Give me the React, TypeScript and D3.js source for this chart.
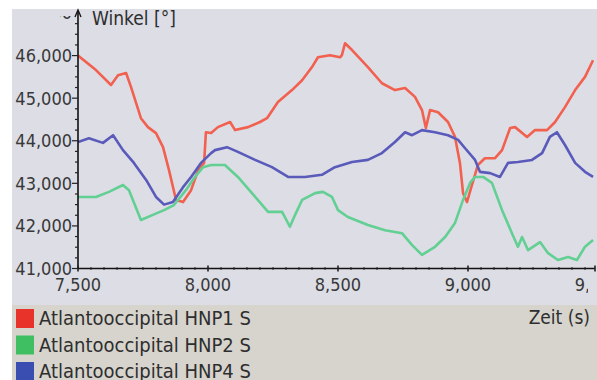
import React, { useEffect, useRef } from "react";
import * as d3 from "d3";

// readings per series: [time (s), angle]
const hnp1: [number, number][] = [
  [7500, 46000], [7569, 45660], [7627, 45310], [7654, 45540], [7685, 45590],
  [7704, 45260], [7742, 44530], [7769, 44320], [7800, 44180], [7827, 43850],
  [7850, 43310], [7877, 42610], [7904, 42560], [7935, 42840], [7962, 43310],
  [7985, 43480], [7992, 44200], [8012, 44180], [8038, 44320], [8085, 44440],
  [8104, 44250], [8154, 44320], [8200, 44440], [8227, 44530], [8269, 44910],
  [8323, 45190], [8362, 45420], [8400, 45730], [8423, 45960], [8469, 46010],
  [8508, 45960], [8515, 46010], [8527, 46290], [8554, 46130], [8615, 45730],
  [8669, 45350], [8719, 45190], [8758, 45240], [8796, 45030], [8823, 44720],
  [8838, 44300], [8854, 44720], [8885, 44670], [8923, 44440], [8950, 44090],
  [8969, 43480], [8981, 42770], [8996, 42560], [9015, 42960], [9038, 43430],
  [9065, 43590], [9104, 43590], [9131, 43780], [9162, 44300], [9181, 44320],
  [9227, 44090], [9258, 44250], [9304, 44250], [9335, 44440], [9373, 44790],
  [9412, 45190], [9450, 45500], [9481, 45890],
];

const hnp2: [number, number][] = [
  [7500, 42680], [7569, 42680], [7619, 42800], [7673, 42960], [7696, 42840],
  [7742, 42140], [7788, 42260], [7831, 42370], [7869, 42490], [7915, 42840],
  [7946, 43120], [7981, 43380], [8012, 43430], [8065, 43430], [8115, 43150],
  [8169, 42770], [8231, 42330], [8285, 42330], [8315, 41980], [8335, 42260],
  [8362, 42610], [8412, 42770], [8442, 42800], [8477, 42680], [8500, 42370],
  [8538, 42210], [8615, 42020], [8681, 41900], [8746, 41830], [8785, 41550],
  [8823, 41320], [8873, 41510], [8912, 41740], [8950, 42070], [8981, 42610],
  [9008, 43010], [9027, 43150], [9058, 43150], [9092, 43010], [9131, 42370],
  [9169, 41830], [9192, 41510], [9208, 41740], [9231, 41430], [9277, 41620],
  [9308, 41360], [9346, 41200], [9385, 41270], [9419, 41200], [9450, 41510],
  [9481, 41670],
];

const hnp4: [number, number][] = [
  [7500, 43970], [7542, 44060], [7596, 43950], [7635, 44130], [7673, 43780],
  [7715, 43480], [7762, 43080], [7800, 42680], [7831, 42500], [7865, 42560],
  [7904, 42910], [7935, 43150], [7973, 43480], [8012, 43710], [8027, 43780],
  [8073, 43850], [8115, 43740], [8181, 43550], [8246, 43380], [8308, 43150],
  [8373, 43150], [8438, 43200], [8488, 43380], [8554, 43500], [8615, 43550],
  [8669, 43710], [8719, 43970], [8758, 44200], [8785, 44130], [8823, 44250],
  [8873, 44200], [8923, 44130], [8962, 44020], [8988, 43830], [9027, 43550],
  [9046, 43270], [9085, 43240], [9123, 43150], [9154, 43480], [9192, 43500],
  [9246, 43550], [9285, 43710], [9315, 44090], [9342, 44200], [9373, 43900],
  [9412, 43480], [9450, 43270], [9481, 43150],
];

const seriesNames = [
  "Atlantooccipital HNP1 S",
  "Atlantooccipital HNP2 S",
  "Atlantooccipital HNP4 S",
];
const lineColors = ["#f2604f", "#62cf93", "#5a5abb"];
const swatchColors = ["#e8332b", "#3fbf62", "#3a4eb2"];

const xTicks = [7500, 8000, 8500, 9000, 9500];
const yTicks = [41000, 42000, 43000, 44000, 45000, 46000, 47000];

const W = 597;
const H = 380;
const FONT = "'DejaVu Sans Condensed', 'DejaVu Sans', sans-serif";

export default function App() {
  const ref = useRef<SVGSVGElement>(null);

  useEffect(() => {
    const svg = d3.select(ref.current);
    svg.selectAll("*").remove();

    const left = 78;
    const right = 595;
    const bottom = 268.5;
    const top = 13;

    const x = d3.scaleLinear().domain([7500, 9500]).range([left, left + 520]);
    const y = d3.scaleLinear().domain([41000, 47000]).range([bottom, top]);

    // panels
    svg.append("rect").attr("width", W).attr("height", H).attr("fill", "#ffffff");
    svg.append("rect").attr("x", 12).attr("y", 9).attr("width", W - 12)
      .attr("height", 296).attr("fill", "#dcdde5");
    svg.append("rect").attr("x", 12).attr("y", 305).attr("width", W - 12)
      .attr("height", H - 305).attr("fill", "#d6d4cd");

    const defs = svg.append("defs");
    defs.append("clipPath").attr("id", "plotClip").append("rect")
      .attr("x", left).attr("y", 9).attr("width", right - left).attr("height", bottom - 9);
    defs.append("clipPath").attr("id", "labelClip").append("rect")
      .attr("x", 60).attr("y", 16).attr("width", 20).attr("height", 10);
    defs.append("clipPath").attr("id", "xLabelClip").append("rect")
      .attr("x", 12).attr("y", 270).attr("width", 576).attr("height", 35);

    // lines
    const line = d3.line<[number, number]>()
      .x((d) => x(d[0]))
      .y((d) => y(d[1]));
    const plot = svg.append("g").attr("clip-path", "url(#plotClip)");
    [hnp1, hnp2, hnp4].forEach((data, i) => {
      plot.append("path")
        .datum(data)
        .attr("d", line)
        .attr("fill", "none")
        .attr("stroke", lineColors[i])
        .attr("stroke-width", 2.6)
        .attr("stroke-linejoin", "round");
    });

    // y axis
    const yAxis = svg.append("g");
    yAxis.append("line").attr("x1", left).attr("x2", left)
      .attr("y1", bottom).attr("y2", 11).attr("stroke", "#111").attr("stroke-width", 1.6);
    yAxis.append("path").attr("d", `M${left - 3},17 L${left},10 L${left + 3},17`)
      .attr("fill", "none").attr("stroke", "#111").attr("stroke-width", 1.3);
    d3.range(41000, 47000, 250).forEach((v) => {
      const major = v % 1000 === 0;
      yAxis.append("line").attr("x1", left - (major ? 6 : 3)).attr("x2", left)
        .attr("y1", y(v)).attr("y2", y(v)).attr("stroke", "#222").attr("stroke-width", 1.2);
    });
    yTicks.forEach((v) => {
      const t = yAxis.append("text")
        .attr("x", left - 6).attr("y", y(v)).attr("dy", "0.36em")
        .attr("text-anchor", "end").attr("font-family", FONT).attr("font-size", 18)
        .attr("fill", "#383838").text(d3.format(",")(v));
      if (v === 47000) t.attr("clip-path", "url(#labelClip)");
    });
    svg.append("text").attr("x", 92).attr("y", 25).attr("font-family", FONT)
      .attr("font-size", 19).attr("fill", "#2e2e2e").text("Winkel [°]");

    // x axis
    const xAxis = svg.append("g");
    xAxis.append("line").attr("x1", left).attr("x2", right)
      .attr("y1", bottom).attr("y2", bottom).attr("stroke", "#111").attr("stroke-width", 1.6);
    d3.range(7500, 9501, 50).forEach((v) => {
      const major = v % 500 === 0;
      const px = Math.min(x(v), right);
      xAxis.append("line").attr("x1", px).attr("x2", px)
        .attr("y1", bottom - (major ? 3 : 1.5)).attr("y2", bottom + (major ? 3 : 1.5))
        .attr("stroke", "#222").attr("stroke-width", major ? 1.6 : 1);
    });
    const xLabels = xAxis.append("g").attr("clip-path", "url(#xLabelClip)");
    xTicks.forEach((v) => {
      xLabels.append("text").attr("x", x(v)).attr("y", 291)
        .attr("text-anchor", "middle").attr("font-family", FONT).attr("font-size", 18)
        .attr("fill", "#383838").text(d3.format(",")(v));
    });
    svg.append("text").attr("x", 590).attr("y", 324).attr("text-anchor", "end")
      .attr("font-family", FONT).attr("font-size", 19).attr("fill", "#2e2e2e")
      .text("Zeit (s)");

    // legend
    seriesNames.forEach((name, i) => {
      const ly = 309 + i * 26.5;
      svg.append("rect").attr("x", 16).attr("y", ly).attr("width", 18).attr("height", 19)
        .attr("fill", swatchColors[i]);
      svg.append("text").attr("x", 39).attr("y", ly + 16).attr("font-family", FONT)
        .attr("font-size", 20).attr("fill", "#2e2e2e").text(name);
    });
  }, []);

  return (
    <svg
      ref={ref}
      width={W}
      height={H}
      style={{ position: "absolute", left: 0, top: 0, display: "block" }}
    />
  );
}
